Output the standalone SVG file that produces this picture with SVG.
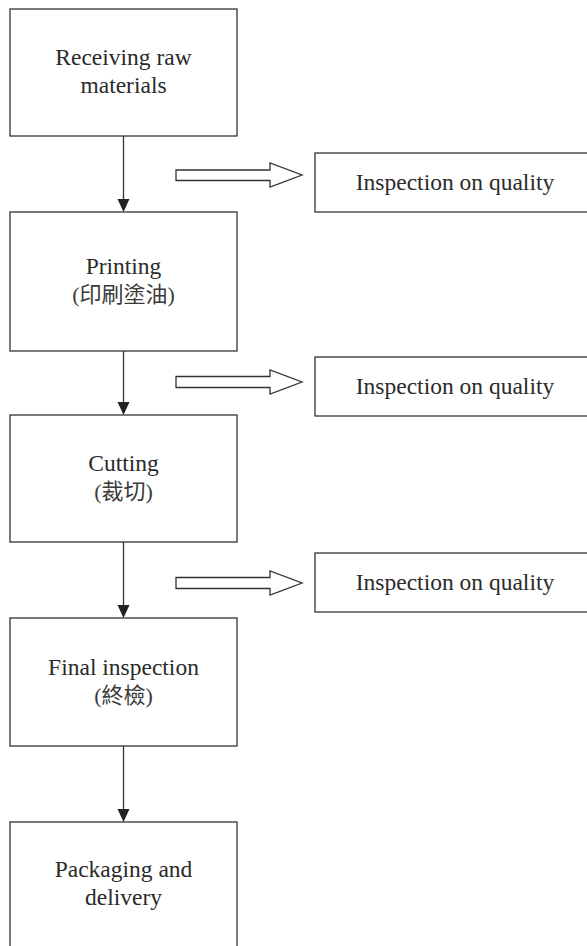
<svg xmlns="http://www.w3.org/2000/svg" width="587" height="946" viewBox="0 0 587 946">
  <style>
    .box { fill: #ffffff; stroke: #333333; stroke-width: 1.3; }
    .lbl { font-family: "Liberation Serif", "Noto Sans CJK TC", serif; font-size: 23.5px; fill: #2a2a2a; text-anchor: middle; }
    .cjk { font-size: 22px; fill: #3a3a3a; }
    .wire { stroke: #333333; stroke-width: 1.3; fill: none; }
    .head { fill: #222222; stroke: none; }
    .hollow { fill: #ffffff; stroke: #333333; stroke-width: 1.3; stroke-linejoin: miter; }
  </style>
  <rect width="587" height="946" fill="#ffffff"/>

  <!-- process steps -->
  <g id="step-receiving">
    <rect class="box" x="10" y="9" width="227" height="127"/>
    <text class="lbl" x="123.5" y="65">Receiving raw</text>
    <text class="lbl" x="123.5" y="93">materials</text>
  </g>
  <g id="step-printing">
    <rect class="box" x="10" y="212" width="227" height="139"/>
    <text class="lbl" x="123.5" y="274">Printing</text>
    <text class="lbl cjk" x="123.5" y="302">(印刷塗油)</text>
  </g>
  <g id="step-cutting">
    <rect class="box" x="10" y="415" width="227" height="127"/>
    <text class="lbl" x="123.5" y="471">Cutting</text>
    <text class="lbl cjk" x="123.5" y="499">(裁切)</text>
  </g>
  <g id="step-final">
    <rect class="box" x="10" y="618" width="227" height="128"/>
    <text class="lbl" x="123.5" y="675">Final inspection</text>
    <text class="lbl cjk" x="123.5" y="703">(終檢)</text>
  </g>
  <g id="step-packaging">
    <rect class="box" x="10" y="822" width="227" height="140"/>
    <text class="lbl" x="123.5" y="877">Packaging and</text>
    <text class="lbl" x="123.5" y="905">delivery</text>
  </g>

  <!-- quality checks -->
  <g id="check-1">
    <rect class="box" x="315" y="153" width="280" height="59"/>
    <text class="lbl" x="455" y="190">Inspection on quality</text>
  </g>
  <g id="check-2">
    <rect class="box" x="315" y="357" width="280" height="59"/>
    <text class="lbl" x="455" y="394">Inspection on quality</text>
  </g>
  <g id="check-3">
    <rect class="box" x="315" y="553" width="280" height="59"/>
    <text class="lbl" x="455" y="590">Inspection on quality</text>
  </g>

  <!-- connectors -->
  <g id="connectors">
    <line class="wire" x1="123.5" y1="136" x2="123.5" y2="200"/>
    <polygon class="head" points="117.5,199 129.5,199 123.5,212"/>
    <line class="wire" x1="123.5" y1="351" x2="123.5" y2="403"/>
    <polygon class="head" points="117.5,402 129.5,402 123.5,415"/>
    <line class="wire" x1="123.5" y1="542" x2="123.5" y2="606"/>
    <polygon class="head" points="117.5,605 129.5,605 123.5,618"/>
    <line class="wire" x1="123.5" y1="746" x2="123.5" y2="810"/>
    <polygon class="head" points="117.5,809 129.5,809 123.5,822"/>

    <polygon class="hollow" points="176,170 270,170 270,163 302,175 270,187 270,180.5 176,180.5"/>
    <polygon class="hollow" points="176,376.5 270,376.5 270,370 302,382 270,394 270,387.5 176,387.5"/>
    <polygon class="hollow" points="176,577.5 270,577.5 270,571 302,583 270,595 270,588.5 176,588.5"/>
  </g>
</svg>
